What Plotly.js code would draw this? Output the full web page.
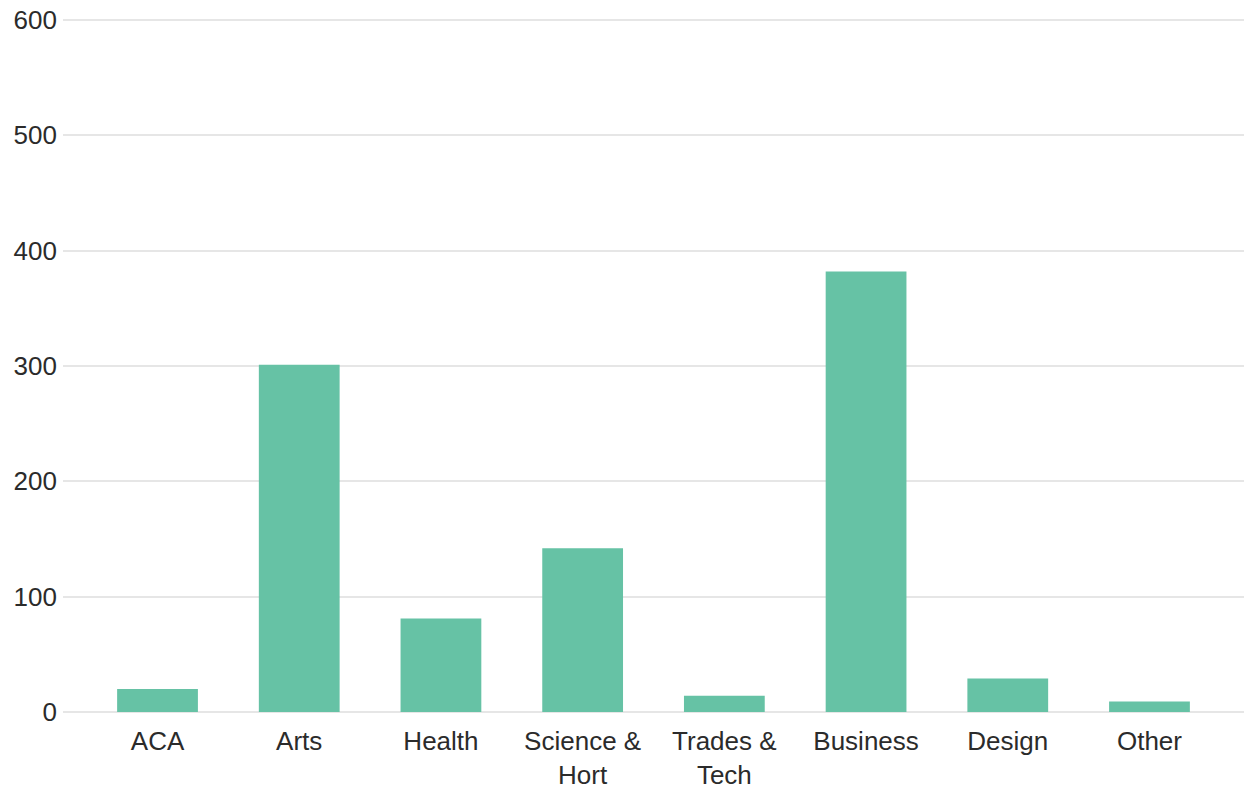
<!DOCTYPE html>
<html>
<head>
<meta charset="utf-8">
<script src="https://cdn.plot.ly/plotly-3.0.1.min.js"></script>
<style>html,body{margin:0;padding:0;background:#fff;}#chart{width:1244px;height:793px;}</style>
</head>
<body>
<div id="chart"></div>
<script>
const categories = ["ACA", "Arts", "Health", "Science & Hort", "Trades & Tech", "Business", "Design", "Other"];
const tickLabels = ["ACA", "Arts", "Health", "Science &<br>Hort", "Trades &<br>Tech", "Business", "Design", "Other"];
const values = [20, 301, 81, 142, 14, 382, 29, 9];
const yTicks = [0, 100, 200, 300, 400, 500, 600];

const trace = {
  type: "bar",
  x: categories,
  y: values,
  marker: {color: "#66c2a5", line: {width: 0}},
  hoverinfo: "x+y"
};

const layout = {
  width: 1244,
  height: 793,
  margin: {l: 63, r: 0, t: 18, b: 81, pad: 0},
  paper_bgcolor: "#ffffff",
  plot_bgcolor: "#ffffff",
  bargap: 0.43,
  showlegend: false,
  font: {family: "Liberation Sans, Arial, sans-serif", size: 26, color: "#2b2b2b"},
  xaxis: {
    type: "category",
    categoryorder: "array",
    categoryarray: categories,
    tickvals: categories,
    ticktext: tickLabels,
    range: [-0.667, 7.667],
    showgrid: false,
    zeroline: false,
    showline: false,
    ticks: "",
    ticklabelstandoff: 11,
    tickfont: {family: "Liberation Sans, Arial, sans-serif", size: 26, color: "#2b2b2b"},
    fixedrange: true
  },
  yaxis: {
    range: [0, 601.73],
    tickvals: yTicks,
    showgrid: true,
    gridcolor: "#e6e6e6",
    gridwidth: 2,
    zeroline: true,
    zerolinecolor: "#e6e6e6",
    zerolinewidth: 2,
    showline: false,
    ticks: "",
    ticklabelstandoff: 5,
    tickfont: {family: "Liberation Sans, Arial, sans-serif", size: 26, color: "#2b2b2b"},
    fixedrange: true
  }
};

Plotly.newPlot("chart", [trace], layout, {displayModeBar: false, staticPlot: true});
</script>
</body>
</html>
